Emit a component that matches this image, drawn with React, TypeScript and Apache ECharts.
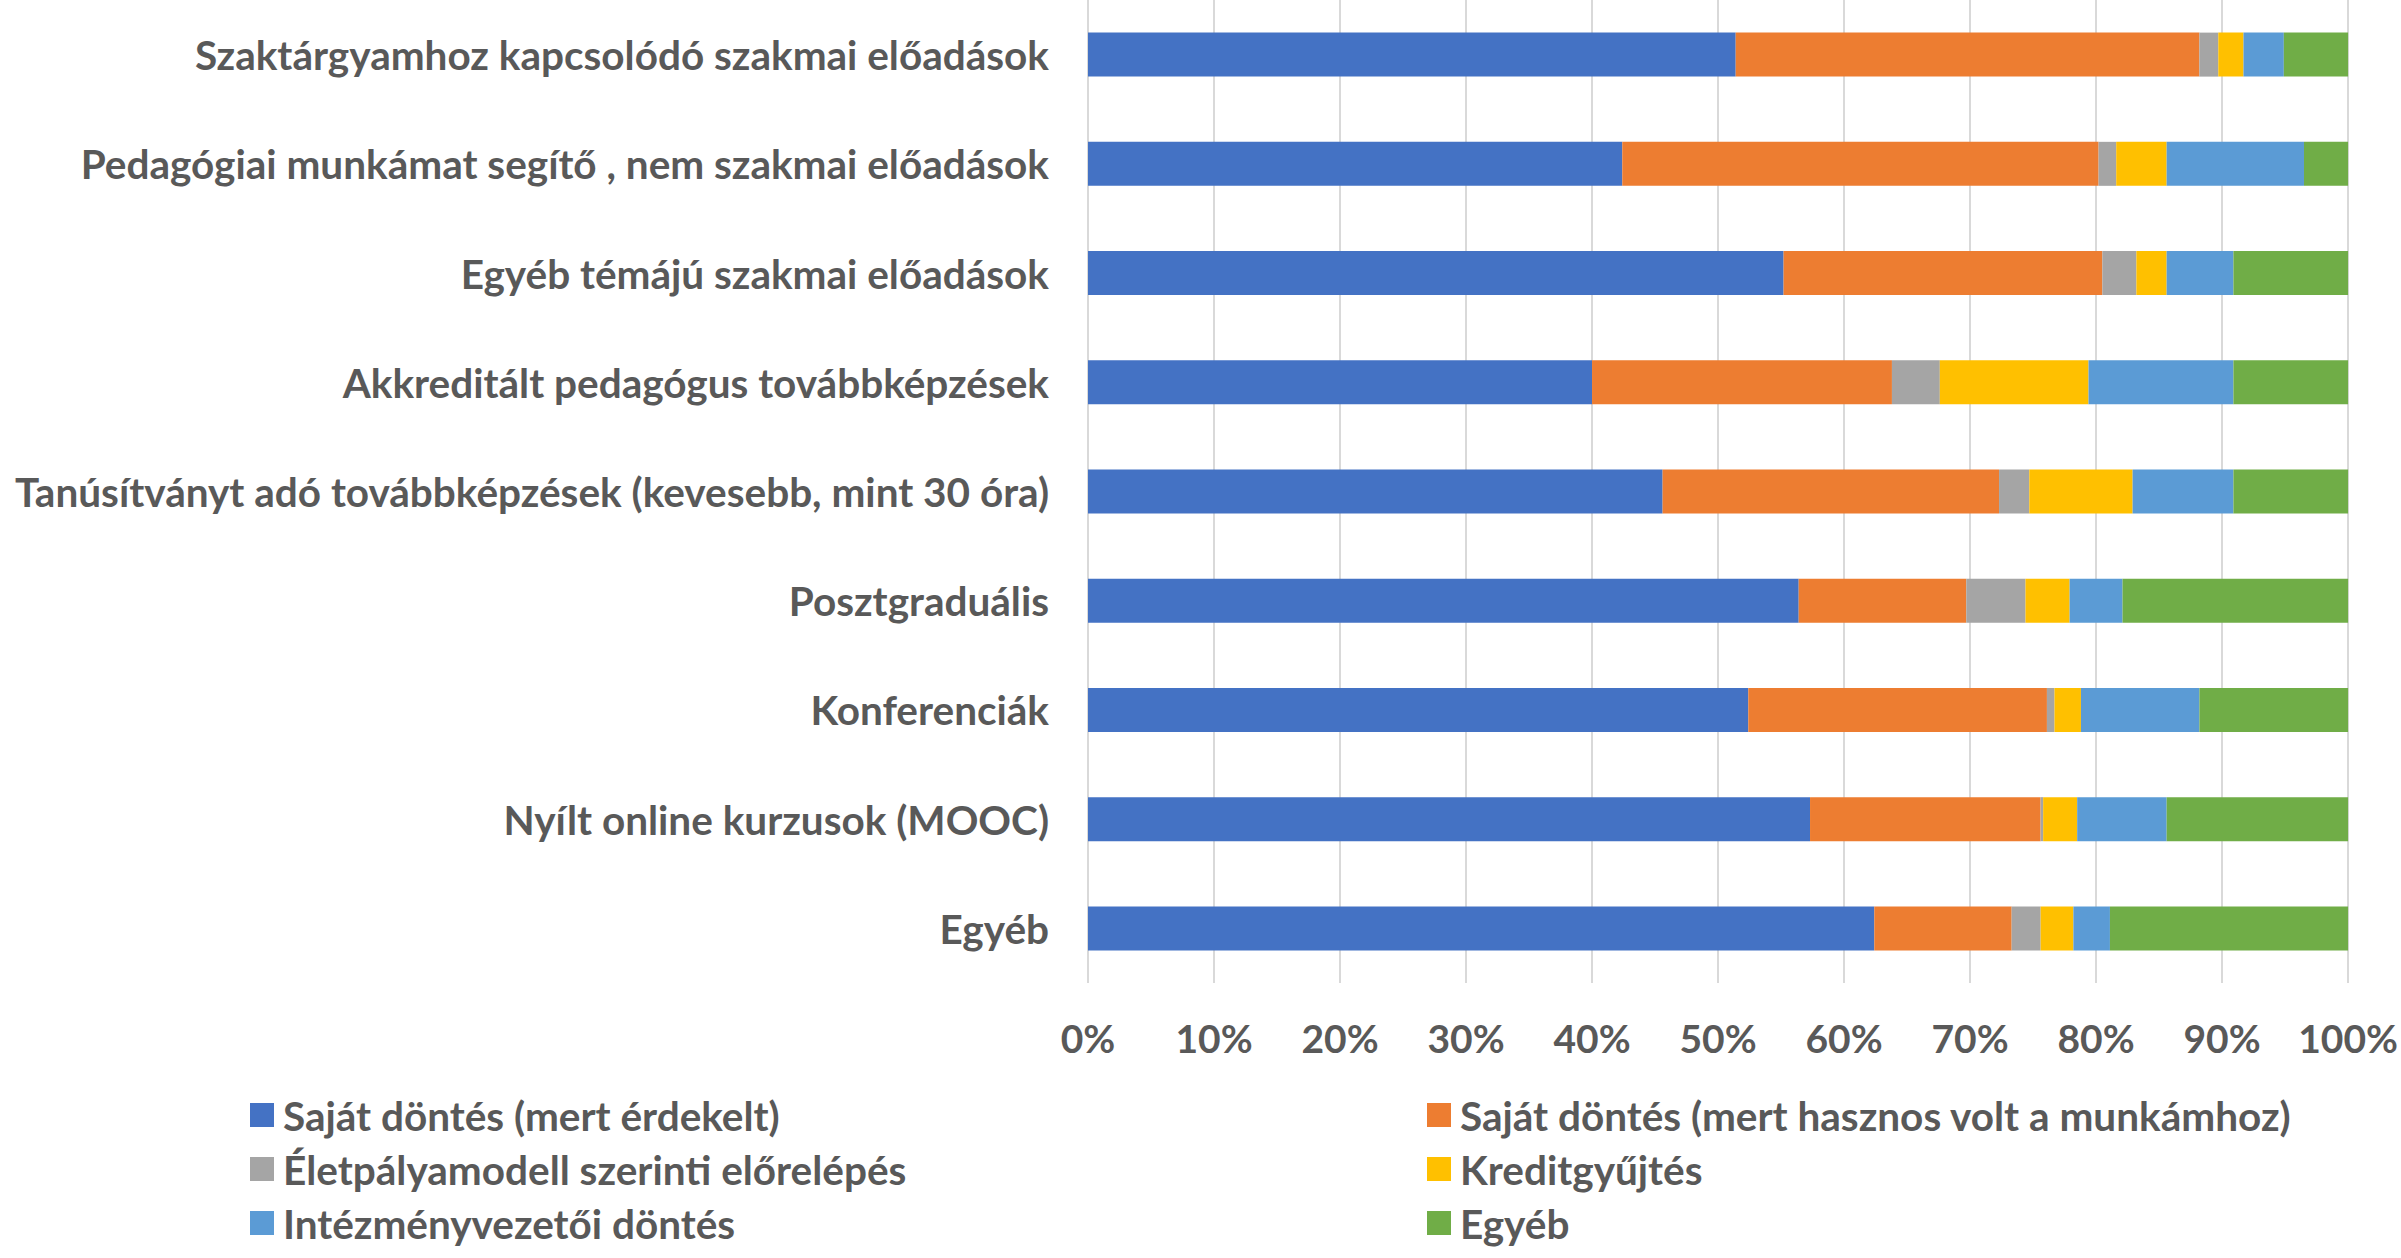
import React, { useEffect, useRef } from "react";
import * as echarts from "echarts";

const categories = [
  "Szaktárgyamhoz kapcsolódó szakmai előadások",
  "Pedagógiai munkámat segítő , nem szakmai előadások",
  "Egyéb témájú szakmai előadások",
  "Akkreditált pedagógus továbbképzések",
  "Tanúsítványt adó továbbképzések (kevesebb, mint 30 óra)",
  "Posztgraduális",
  "Konferenciák",
  "Nyílt online kurzusok (MOOC)",
  "Egyéb",
];

const seriesNames = [
  "Saját döntés (mert érdekelt)",
  "Saját döntés (mert hasznos volt a munkámhoz)",
  "Életpályamodell szerinti előrelépés",
  "Kreditgyűjtés",
  "Intézményvezetői döntés",
  "Egyéb",
];

const sajatErdekelt = [51.4, 42.4, 55.2, 40.0, 45.6, 56.4, 52.4, 57.3, 62.4];
const sajatHasznos = [36.8, 37.8, 25.3, 23.8, 26.7, 13.3, 23.7, 18.3, 10.9];
const eletpalya = [1.5, 1.4, 2.7, 3.8, 2.4, 4.7, 0.6, 0.2, 2.3];
const kredit = [2.0, 4.0, 2.4, 11.8, 8.2, 3.5, 2.1, 2.7, 2.6];
const intezmeny = [3.2, 10.9, 5.3, 11.5, 8.0, 4.2, 9.4, 7.1, 2.9];
const egyeb = [5.1, 3.5, 9.1, 9.1, 9.1, 17.9, 11.8, 14.4, 18.9];

const seriesData = [sajatErdekelt, sajatHasznos, eletpalya, kredit, intezmeny, egyeb];
const colors = ["#4472C4", "#ED7D31", "#A5A5A5", "#FFC000", "#5B9BD5", "#70AD47"];

const FONT = "Lato";
const TEXT = "#595959";

export default function App() {
  const ref = useRef<HTMLDivElement>(null);
  useEffect(() => {
    if (!ref.current) return;
    const chart = echarts.init(ref.current, undefined, { renderer: "svg" });
    const legendText = {
      color: TEXT,
      fontFamily: FONT,
      fontWeight: "bold" as const,
      fontSize: 40.5,
      lineHeight: 42,
      padding: [0, 0, 0, 4],
    };
    chart.setOption({
      animation: false,
      color: colors,
      grid: { left: 1088, right: 43, top: -2, bottom: 275, containLabel: false },
      xAxis: {
        type: "value",
        min: 0,
        max: 100,
        interval: 10,
        axisLine: { show: false },
        axisTick: { show: false },
        splitLine: { show: true, lineStyle: { color: "#d9d9d9", width: 2 } },
        axisLabel: {
          formatter: "{value}%",
          color: TEXT,
          fontFamily: FONT,
          fontWeight: "bold",
          fontSize: 39,
          margin: 35,
        },
      },
      yAxis: {
        type: "category",
        data: categories,
        inverse: true,
        axisLine: { show: false },
        axisTick: { show: false },
        axisLabel: {
          color: TEXT,
          fontFamily: FONT,
          fontWeight: "bold",
          fontSize: 40.5,
          margin: 39,
        },
      },
      legend: [
        {
          orient: "vertical",
          left: 245,
          top: 1089,
          itemWidth: 24,
          itemHeight: 24,
          itemGap: 12,
          icon: "rect",
          textStyle: legendText,
          data: [seriesNames[0], seriesNames[2], seriesNames[4]],
        },
        {
          orient: "vertical",
          left: 1422,
          top: 1089,
          itemWidth: 24,
          itemHeight: 24,
          itemGap: 12,
          icon: "rect",
          textStyle: legendText,
          data: [seriesNames[1], seriesNames[3], seriesNames[5]],
        },
      ],
      series: seriesData.map((d, i) => ({
        name: seriesNames[i],
        type: "bar",
        stack: "total",
        barWidth: 44,
        data: d,
        itemStyle: { color: colors[i] },
      })),
    });
    return () => chart.dispose();
  }, []);
  return (
    <div
      ref={ref}
      style={{ position: "fixed", left: 0, top: 0, width: 2401, height: 1258, background: "#fff" }}
    />
  );
}
